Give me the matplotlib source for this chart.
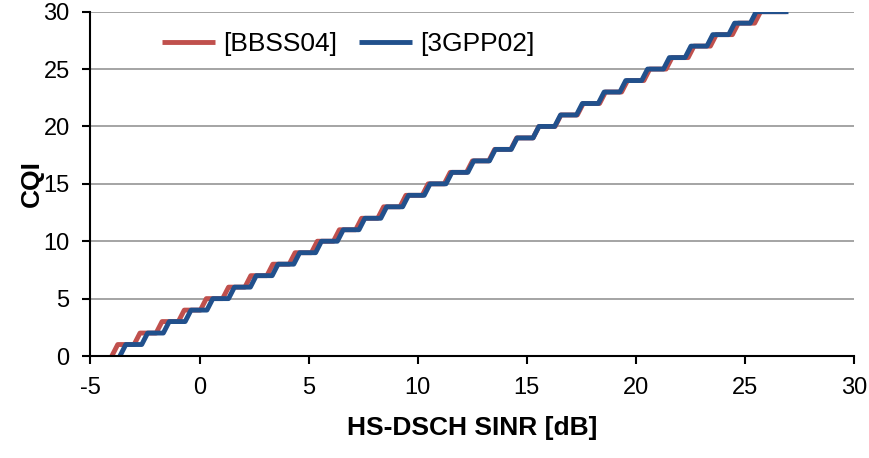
import matplotlib
matplotlib.use('Agg')
import matplotlib.pyplot as plt

plt.rcParams['font.family'] = ['Liberation Sans', 'DejaVu Sans']
plt.rcParams['axes.unicode_minus'] = False

# SINR [dB] where the CQI steps up from k-1 to k (k = 1..30)
cqi_levels = list(range(1, 31))
bbss04_steps = [-4.02, -3.00, -1.99, -0.97, 0.04, 1.06, 2.08, 3.09, 4.11, 5.13,
                6.14, 7.16, 8.17, 9.19, 10.21, 11.22, 12.24, 13.26, 14.27, 15.29,
                16.30, 17.32, 18.34, 19.35, 20.37, 21.39, 22.40, 23.42, 24.43, 25.45]
gpp02_steps = [-3.65, -2.65, -1.66, -0.66, 0.34, 1.33, 2.33, 3.33, 4.32, 5.32,
               6.32, 7.31, 8.31, 9.31, 10.30, 11.30, 12.30, 13.29, 14.29, 15.29,
               16.28, 17.28, 18.28, 19.27, 20.27, 21.27, 22.26, 23.26, 24.26, 25.25]
bbss04_end = 26.9
gpp02_end = 27.0

RISE = 0.27  # dB taken by each slanted step


def staircase(steps, levels, x_end):
  xs, ys = [], []
  for s, k in zip(steps, levels):
    xs += [s, s + RISE]
    ys += [k - 1, k]
  xs.append(x_end)
  ys.append(levels[-1])
  return xs, ys


fig = plt.figure(figsize=(8.7, 4.58), dpi=100)
ax = fig.add_axes([0.104, 0.2227, 0.8775, 0.7518])

series = [
  (bbss04_steps, bbss04_end, '[BBSS04]', '#C0504D'),
  (gpp02_steps, gpp02_end, '[3GPP02]', '#21508C'),
]
for steps, x_end, label, color in series:
  xs, ys = staircase(steps, cqi_levels, x_end)
  ax.plot(xs, ys, color=color, linewidth=3.5, label=label,
          solid_joinstyle='round', solid_capstyle='butt')

ax.set_xlim(-5, 30)
ax.set_ylim(0, 30)
ax.set_xticks(range(-5, 31, 5))
ax.set_yticks(range(0, 31, 5))
ax.yaxis.grid(True, color='#8c8c8c', linewidth=1.1)
ax.set_axisbelow(True)

for side in ['top', 'right']:
  ax.spines[side].set_visible(False)
for side in ['left', 'bottom']:
  ax.spines[side].set_linewidth(1.5)
ax.tick_params(axis='both', direction='out', length=6, width=1.5,
               labelsize=17, pad=9)

ax.set_xlabel('HS-DSCH SINR [dB]', fontsize=19, fontweight='bold', labelpad=12)
ax.set_ylabel('CQI', fontsize=19, fontweight='bold', labelpad=0)

ax.legend(loc='center left', bbox_to_anchor=(0.094, 0.906), ncol=2,
          frameon=False, fontsize=19, handlelength=2.0, handletextpad=0.3,
          columnspacing=0.85, borderaxespad=0, borderpad=0)

fig.savefig('out.png', dpi=100)
